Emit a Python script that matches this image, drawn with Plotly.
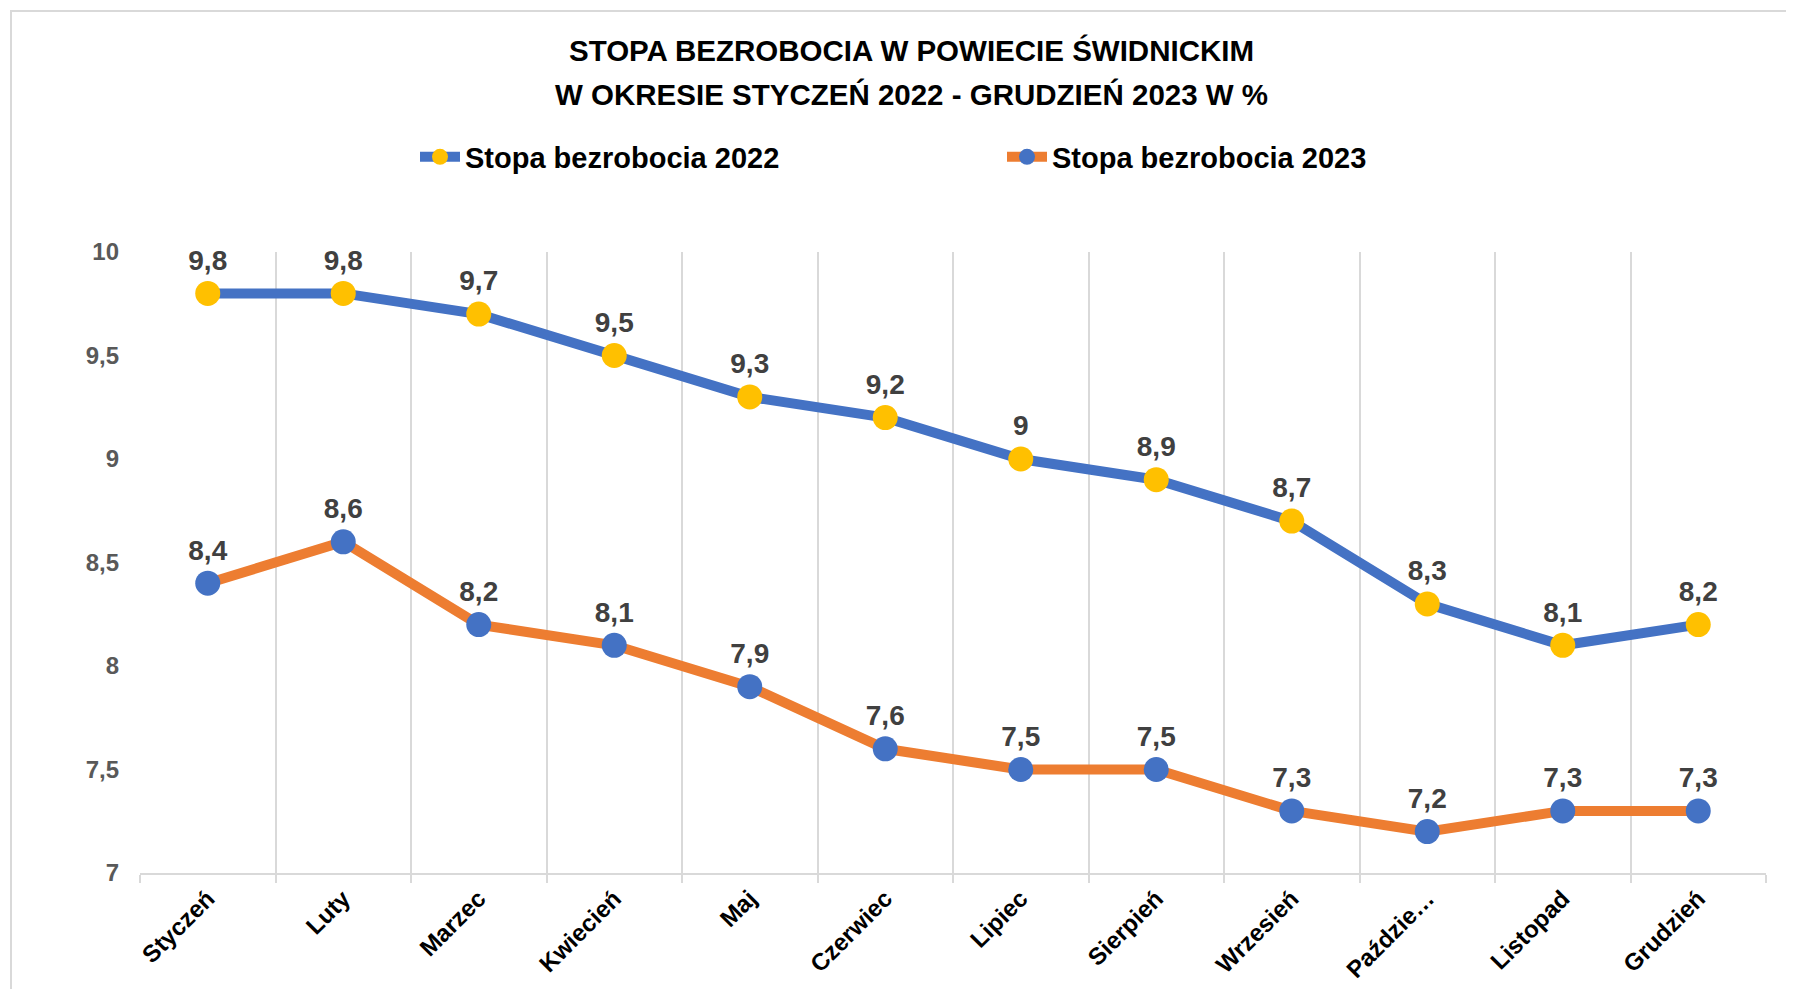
import plotly.graph_objects as go

months = ["Styczeń", "Luty", "Marzec", "Kwiecień", "Maj", "Czerwiec", "Lipiec",
          "Sierpień", "Wrzesień", "Paździe…", "Listopad", "Grudzień"]
rate_2022 = [9.8, 9.8, 9.7, 9.5, 9.3, 9.2, 9.0, 8.9, 8.7, 8.3, 8.1, 8.2]
rate_2023 = [8.4, 8.6, 8.2, 8.1, 7.9, 7.6, 7.5, 7.5, 7.3, 7.2, 7.3, 7.3]
y_ticks = [7, 7.5, 8, 8.5, 9, 9.5, 10]
y_tick_text = ["7", "7,5", "8", "8,5", "9", "9,5", "10"]
title_lines = ["STOPA BEZROBOCIA W POWIECIE ŚWIDNICKIM",
               "W OKRESIE STYCZEŃ 2022 - GRUDZIEŃ 2023 W %"]
names = ["Stopa bezrobocia 2022", "Stopa bezrobocia 2023"]


def fmt(v):
    return ("%g" % v).replace(".", ",")


# page has an 8px body margin; positions below are screen pixels
OFF = 8
SCREEN_W, SCREEN_H = 1794, 989
W, H = SCREEN_W - OFF, SCREEN_H - OFF
PL, PR, PT, PB = 140, 1766, 252, 873  # plot area in screen px
L, R, T, B = PL - OFF, SCREEN_W - PR, PT - OFF, SCREEN_H - PB
pw, ph = PR - PL, PB - PT


def px_x(x):
    return (x - PL) / pw


def px_y(y):
    return (PB - y) / ph


FONT = "Liberation Sans, Arial, sans-serif"
BLUE = "#4472C4"
ORANGE = "#ED7D31"
YELLOW = "#FFC000"

fig = go.Figure()
fig.add_trace(go.Scatter(
    x=months, y=rate_2022, name=names[0], mode="lines+markers+text",
    line=dict(color=BLUE, width=10),
    marker=dict(color=YELLOW, size=25),
    text=[fmt(v) for v in rate_2022], textposition="top center",
    textfont=dict(family=FONT, size=28, color="#404040", weight="bold"),
    cliponaxis=False,
))
fig.add_trace(go.Scatter(
    x=months, y=rate_2023, name=names[1], mode="lines+markers+text",
    line=dict(color=ORANGE, width=10),
    marker=dict(color=BLUE, size=25),
    text=[fmt(v) for v in rate_2023], textposition="top center",
    textfont=dict(family=FONT, size=28, color="#404040", weight="bold"),
    cliponaxis=False,
))

for line, yy in zip(title_lines, [51, 94]):
    fig.add_annotation(text=line, x=px_x(911), y=px_y(yy), xref="paper", yref="paper",
                       showarrow=False, xanchor="center", yanchor="middle",
                       font=dict(family=FONT, size=29.5, color="black", weight="bold"))

fig.add_shape(type="rect", xref="paper", yref="paper",
              x0=px_x(11), y0=px_y(1100), x1=px_x(1900), y1=px_y(11),
              line=dict(color="#D9D9D9", width=2), layer="below")

fig.update_layout(
    width=W, height=H,
    margin=dict(l=L, r=R, t=T, b=B, autoexpand=False),
    paper_bgcolor="white", plot_bgcolor="white",
    font=dict(family=FONT),
    separators=", ",
    showlegend=True,
    legend=dict(orientation="h", x=px_x(415), y=px_y(157), xanchor="left", yanchor="middle",
                font=dict(family=FONT, size=29, color="black", weight="bold"),
                entrywidth=532, entrywidthmode="pixels", itemwidth=40,
                traceorder="normal", bgcolor="rgba(0,0,0,0)"),
    xaxis=dict(type="category", range=[-0.5, 11.5], tickson="boundaries",
               automargin=False,
               showgrid=True, gridcolor="#D9D9D9", gridwidth=2,
               showline=True, linecolor="#D9D9D9", linewidth=2,
               ticks="outside", ticklen=8, tickcolor="#D9D9D9", tickwidth=2,
               tickangle=-45,
               tickfont=dict(family=FONT, size=24, color="black", weight="bold"),
               zeroline=False),
    yaxis=dict(range=[7, 10], tickvals=y_ticks, ticktext=y_tick_text,
               automargin=False,
               showgrid=False, zeroline=False, showline=False,
               ticks="", ticklabelstandoff=20,
               tickfont=dict(family=FONT, size=24, color="#595959", weight="bold")),
)

fig.write_html("out.html")
